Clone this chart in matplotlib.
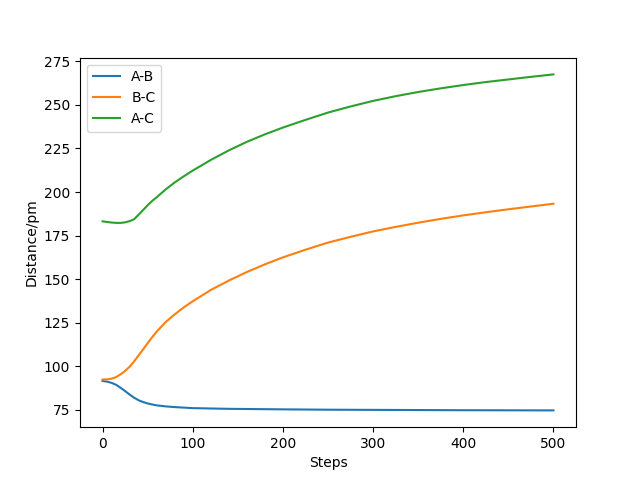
import matplotlib
matplotlib.use("Agg")
import matplotlib.pyplot as plt

# distances
steps = [0, 5, 10, 15, 20, 25, 30, 35, 40, 45, 50, 55, 60, 70, 80, 90, 100,
         120, 140, 160, 180, 200, 225, 250, 275, 300, 325, 350, 375, 400,
         425, 450, 475, 500]
dist_ab = [91.6, 91.2, 90.5, 89.4, 87.7, 85.8, 83.8, 82.0, 80.5, 79.5, 78.7,
           78.1, 77.6, 77.0, 76.6, 76.3, 76.0, 75.8, 75.6, 75.5, 75.4, 75.3,
           75.2, 75.1, 75.05, 75.0, 74.95, 74.9, 74.85, 74.8, 74.78, 74.75,
           74.72, 74.7]
dist_bc = [92.4, 92.5, 92.9, 93.8, 95.4, 97.3, 99.8, 102.8, 106.3, 109.7,
           113.3, 116.7, 119.9, 125.4, 129.8, 133.8, 137.3, 143.8, 149.2,
           154.1, 158.5, 162.5, 166.9, 171.0, 174.3, 177.4, 180.0, 182.4,
           184.6, 186.6, 188.4, 190.1, 191.7, 193.3]
dist_ac = [183.2, 182.8, 182.5, 182.3, 182.3, 182.6, 183.3, 184.4, 187.0,
           189.7, 192.4, 194.9, 197.0, 201.5, 205.5, 209.0, 212.3, 218.4,
           223.9, 228.8, 233.1, 237.0, 241.4, 245.6, 249.1, 252.3, 255.0,
           257.4, 259.5, 261.4, 263.1, 264.6, 266.1, 267.5]
labels = ["A-B", "B-C", "A-C"]

fig, ax = plt.subplots(figsize=(6.4, 4.8), dpi=100)
for values, label in zip([dist_ab, dist_bc, dist_ac], labels):
    ax.plot(steps, values, label=label)
ax.set_xlabel("Steps")
ax.set_ylabel("Distance/pm")
ax.legend(loc="upper left")
fig.savefig("out.png")
